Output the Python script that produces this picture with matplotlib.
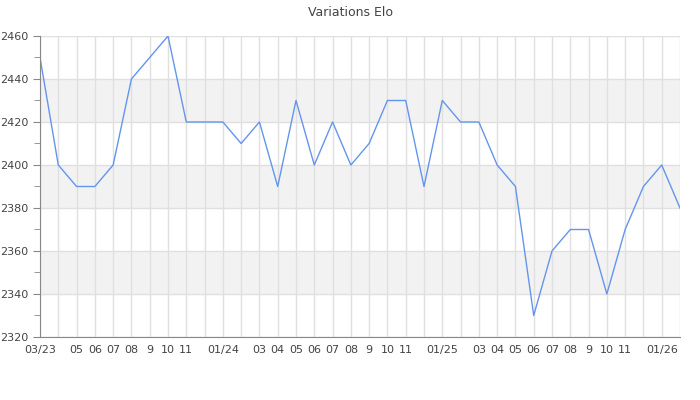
import matplotlib
matplotlib.use("Agg")
import matplotlib.pyplot as plt
from matplotlib.ticker import MultipleLocator

months = ["03/23", "04", "05", "06", "07", "08", "9", "10", "11", "12",
          "01/24", "02", "03", "04", "05", "06", "07", "08", "9", "10", "11", "12",
          "01/25", "02", "03", "04", "05", "06", "07", "08", "9", "10", "11", "12",
          "01/26", "02"]
shown = [True, False, True, True, True, True, True, True, True, False,
         True, False, True, True, True, True, True, True, True, True, True, False,
         True, False, True, True, True, True, True, True, True, True, True, False,
         True, False]
elo = [2450, 2400, 2390, 2390, 2400, 2440, 2450, 2460, 2420, 2420,
       2420, 2410, 2420, 2390, 2430, 2400, 2420, 2400, 2410, 2430, 2430, 2390,
       2430, 2420, 2420, 2400, 2390, 2330, 2360, 2370, 2370, 2340, 2370, 2390,
       2400, 2380]

fig = plt.figure(figsize=(7, 4), dpi=100)
ax = fig.add_axes([40/700, 1-337/400, 640/700, 301/400])

x = list(range(len(elo)))
ymin, ymax = 2320, 2460
for lo in range(2340, 2460, 40):
    ax.axhspan(lo, lo + 20, color="#f2f2f2", zorder=0, lw=0)
for yv in range(2320, 2461, 20):
    ax.axhline(yv, color="#e0e0e0", lw=1, zorder=1)
for xv in x:
    ax.axvline(xv, color="#e0e0e0", lw=1, zorder=1)

ax.plot(x, elo, color="#6495ed", lw=1, zorder=3)

ax.set_xlim(0, len(elo) - 1)
ax.set_ylim(ymin, ymax)
ax.set_xticks(x)
ax.set_xticklabels([m if s else "" for m, s in zip(months, shown)])
ax.yaxis.set_major_locator(MultipleLocator(20))
ax.yaxis.set_minor_locator(MultipleLocator(10))
ax.tick_params(axis="x", length=0, pad=6, labelsize=8, labelcolor="#444444")
ax.tick_params(axis="y", which="major", length=5, color="#888888", labelsize=8, labelcolor="#444444")
ax.tick_params(axis="y", which="minor", length=4, color="#888888")

for s in ["top", "right"]:
    ax.spines[s].set_visible(False)
ax.spines["left"].set_color("#888888")
ax.spines["bottom"].set_color("#888888")
ax.spines["left"].set_zorder(4)
ax.spines["bottom"].set_zorder(4)

fig.text(0.5, 1 - 12/400, "Variations Elo", ha="center", va="center", fontsize=9, color="#444444")

fig.savefig("out.png", dpi=100)
